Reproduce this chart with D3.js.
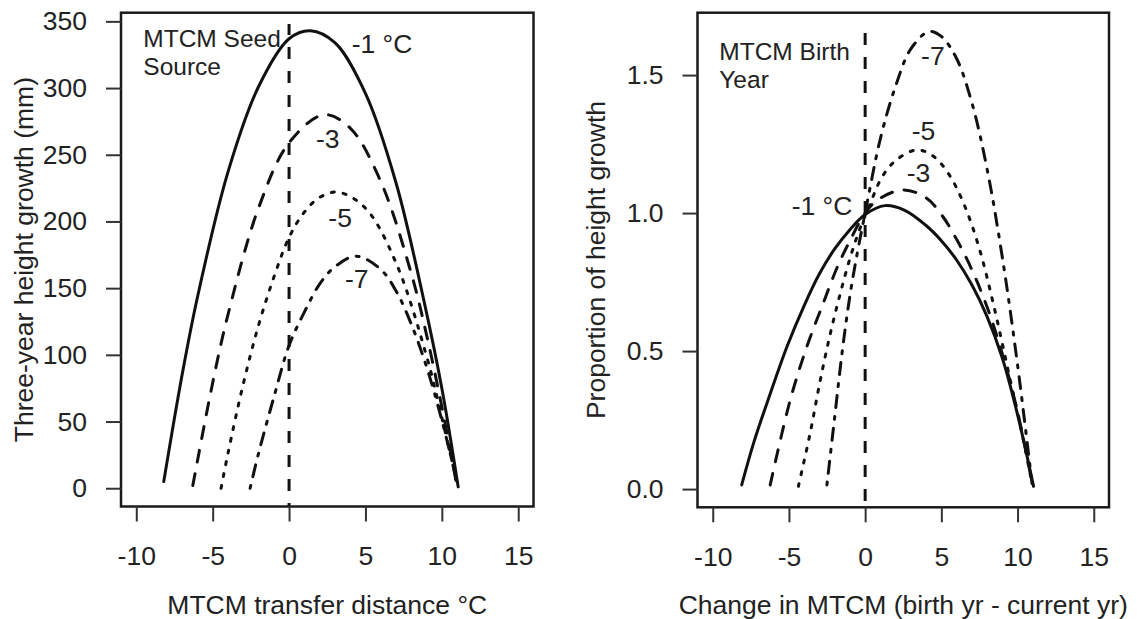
<!DOCTYPE html>
<html>
<head>
<meta charset="utf-8">
<script src="https://cdn.jsdelivr.net/npm/d3@7"></script>
<style>
  body { margin: 0; background: #fff; }
  text { font-family: "Liberation Sans", Arial, sans-serif; fill: #222; }
</style>
</head>
<body>
<script>
// shared x ticks
const xTicks = [-10, -5, 0, 5, 10, 15];

// left panel: three-year height growth (mm) vs transfer distance
const seedYTicks = [0, 50, 100, 150, 200, 250, 300, 350];
const seedMinus1 = [[-8.2,5],[-7,85],[-6,143],[-4,237],[-2,301],[0,337],[1.4,343],[3,334],[5,296],[7,229],[8.8,142],[10,75],[11.07,1]];
const seedMinus3 = [[-6.3,2],[-5,79],[-4,130],[-2,210],[0,259],[2.3,280],[4,270],[6,230],[8,161],[9,115],[10,61],[11.0,1]];
const seedMinus5 = [[-4.45,0],[-4,26],[-3,78],[-2,122],[-1,158],[0,188],[1,207],[2,218],[3.2,222],[5,210],[7,169],[9,99],[10,53],[11.05,1]];
const seedMinus7 = [[-2.55,0],[-2,26],[-1,68],[0,107],[1,132],[2,153],[3,166],[4.4,174],[6,164],[7,148],[8,123],[9,91],[10,51],[11.07,1]];
const seedZero = [[0,-20],[0,348]];
const seedLabels = [
  { text: "MTCM Seed", x: -9.54, y: 331, size: 24.5 },
  { text: "Source", x: -9.54, y: 309.8, size: 24.5 },
  { text: "-1 °C", x: 4.1, y: 326, size: 26.5 },
  { text: "-3", x: 1.76, y: 255, size: 26.5 },
  { text: "-5", x: 2.57, y: 195.8, size: 26.5 },
  { text: "-7", x: 3.66, y: 149.9, size: 26.5 }
];

// right panel: proportion of height growth vs change in MTCM
const birthYTicks = [0, 0.5, 1.0, 1.5];
const birthMinus1 = [[-8.1,0.015],[-7.3,0.17],[-6.2,0.35],[-5.1,0.52],[-4,0.665],[-3,0.78],[-2,0.87],[-1,0.94],[0,0.995],[1.3,1.027],[2.6,1.01],[4,0.955],[5,0.9],[6,0.83],[7,0.74],[8,0.625],[9,0.475],[10,0.27],[11.05,0.01]];
const birthMinus3 = [[-6.23,0.015],[-4.93,0.32],[-3.83,0.515],[-2.74,0.675],[-1.86,0.8],[-1,0.9],[0,1.0],[0.8,1.047],[2.5,1.084],[4,1.055],[5,0.995],[6,0.905],[7,0.795],[8,0.66],[9,0.49],[10,0.28],[11.0,0.01]];
const birthMinus5 = [[-4.38,0.01],[-3.62,0.2],[-2.96,0.39],[-2.3,0.56],[-1.65,0.705],[-1,0.835],[-0.4,0.935],[0.3,1.03],[1.1,1.13],[2,1.19],[3.4,1.229],[4.5,1.205],[5.5,1.14],[6.5,1.03],[7.5,0.87],[8.5,0.65],[9.5,0.4],[10.3,0.2],[10.95,0.02]];
const birthMinus7 = [[-2.51,0.015],[-2,0.26],[-1.5,0.5],[-1,0.7],[-0.5,0.86],[0,1.0],[1,1.27],[2,1.46],[3,1.595],[4.2,1.658],[5,1.64],[6,1.56],[7,1.4],[8,1.16],[9,0.84],[10,0.45],[10.95,0.02]];
const birthZero = [[0,-1],[0,1.68]];
const birthLabels = [
  { text: "MTCM Birth", x: -9.57, y: 1.555, size: 24.5 },
  { text: "Year", x: -9.57, y: 1.452, size: 24.5 },
  { text: "-7", x: 3.67, y: 1.537, size: 26.5 },
  { text: "-5", x: 3.06, y: 1.265, size: 26.5 },
  { text: "-3", x: 2.73, y: 1.114, size: 26.5 },
  { text: "-1 °C", x: -4.82, y: 0.993, size: 26.5 }
];

const dashes = { solid: null, dashed: "12,12", dotted: "3,9", dotdash: "3,9,12,9" };

const svg = d3.select("body").append("svg")
  .attr("width", 1141)
  .attr("height", 619);

function drawPanel(p) {
  const x = d3.scaleLinear().domain([-11, 16]).range(p.xRange);
  const y = d3.scaleLinear().domain(p.yDomain).range([p.bottom, p.top]);

  const g = svg.append("g");

  g.append("clipPath").attr("id", p.id)
    .append("rect")
    .attr("x", p.xRange[0]).attr("y", p.top)
    .attr("width", p.xRange[1] - p.xRange[0])
    .attr("height", p.bottom - p.top);

  const line = d3.line()
    .x(d => x(d[0]))
    .y(d => y(d[1]))
    .curve(d3.curveCatmullRom.alpha(0.5));

  const plot = g.append("g").attr("clip-path", `url(#${p.id})`);

  plot.append("path")
    .attr("d", d3.line().x(d => x(d[0])).y(d => y(d[1]))(p.zero))
    .attr("fill", "none")
    .attr("stroke", "#111")
    .attr("stroke-width", 3)
    .attr("stroke-dasharray", dashes.dashed);

  p.series.forEach(s => {
    plot.append("path")
      .attr("d", line(s.data))
      .attr("fill", "none")
      .attr("stroke", "#111")
      .attr("stroke-width", 3)
      .attr("stroke-linecap", "round")
      .attr("stroke-dasharray", dashes[s.style]);
  });

  // box
  g.append("rect")
    .attr("x", p.xRange[0]).attr("y", p.top)
    .attr("width", p.xRange[1] - p.xRange[0])
    .attr("height", p.bottom - p.top)
    .attr("fill", "none")
    .attr("stroke", "#1a1a1a")
    .attr("stroke-width", 2.5);

  const yAxisG = g.append("g")
    .attr("transform", `translate(${p.xRange[0]},0)`)
    .call(d3.axisLeft(y).tickValues(p.yTicks).tickFormat(p.yFormat).tickSize(15).tickPadding(19));
  yAxisG.select(".domain").remove();

  const xAxisG = g.append("g")
    .attr("transform", `translate(0,${p.bottom})`)
    .call(d3.axisBottom(x).tickValues(xTicks).tickFormat(d => String(d)).tickSize(15).tickPadding(25));
  xAxisG.select(".domain").remove();

  [yAxisG, xAxisG].forEach(a => {
    a.attr("font-size", null).attr("font-family", null);
    a.selectAll(".tick line").attr("stroke", "#333").attr("stroke-width", 2);
    a.selectAll(".tick text").attr("fill", "#222").style("font-size", "26.5px");
  });

  g.append("text")
    .attr("x", (p.xRange[0] + p.xRange[1]) / 2)
    .attr("y", 614)
    .attr("text-anchor", "middle")
    .style("font-size", "26.5px")
    .text(p.xTitle);

  g.append("text")
    .attr("transform", `translate(${p.yTitleX},${(p.top + p.bottom) / 2}) rotate(-90)`)
    .attr("text-anchor", "middle")
    .style("font-size", "26.5px")
    .text(p.yTitle);

  g.selectAll(".lab")
    .data(p.labels)
    .join("text")
    .attr("class", "lab")
    .attr("x", d => x(d.x))
    .attr("y", d => y(d.y))
    .style("font-size", d => d.size + "px")
    .text(d => d.text);
}

drawPanel({
  id: "clipSeed",
  xRange: [121, 533.5],
  top: 12.7,
  bottom: 506.5,
  yDomain: [-13.7, 356.5],
  yTicks: seedYTicks,
  yFormat: d => String(d),
  zero: seedZero,
  series: [
    { data: seedMinus1, style: "solid" },
    { data: seedMinus3, style: "dashed" },
    { data: seedMinus5, style: "dotted" },
    { data: seedMinus7, style: "dotdash" }
  ],
  labels: seedLabels,
  xTitle: "MTCM transfer distance °C",
  yTitle: "Three-year height growth (mm)",
  yTitleX: 33
});

drawPanel({
  id: "clipBirth",
  xRange: [697.5, 1109],
  top: 12.7,
  bottom: 507.3,
  yDomain: [-0.066, 1.726],
  yTicks: birthYTicks,
  yFormat: d3.format(".1f"),
  zero: birthZero,
  series: [
    { data: birthMinus1, style: "solid" },
    { data: birthMinus3, style: "dashed" },
    { data: birthMinus5, style: "dotted" },
    { data: birthMinus7, style: "dotdash" }
  ],
  labels: birthLabels,
  xTitle: "Change in MTCM (birth yr - current yr)",
  yTitle: "Proportion of height growth",
  yTitleX: 605
});
</script>
</body>
</html>
